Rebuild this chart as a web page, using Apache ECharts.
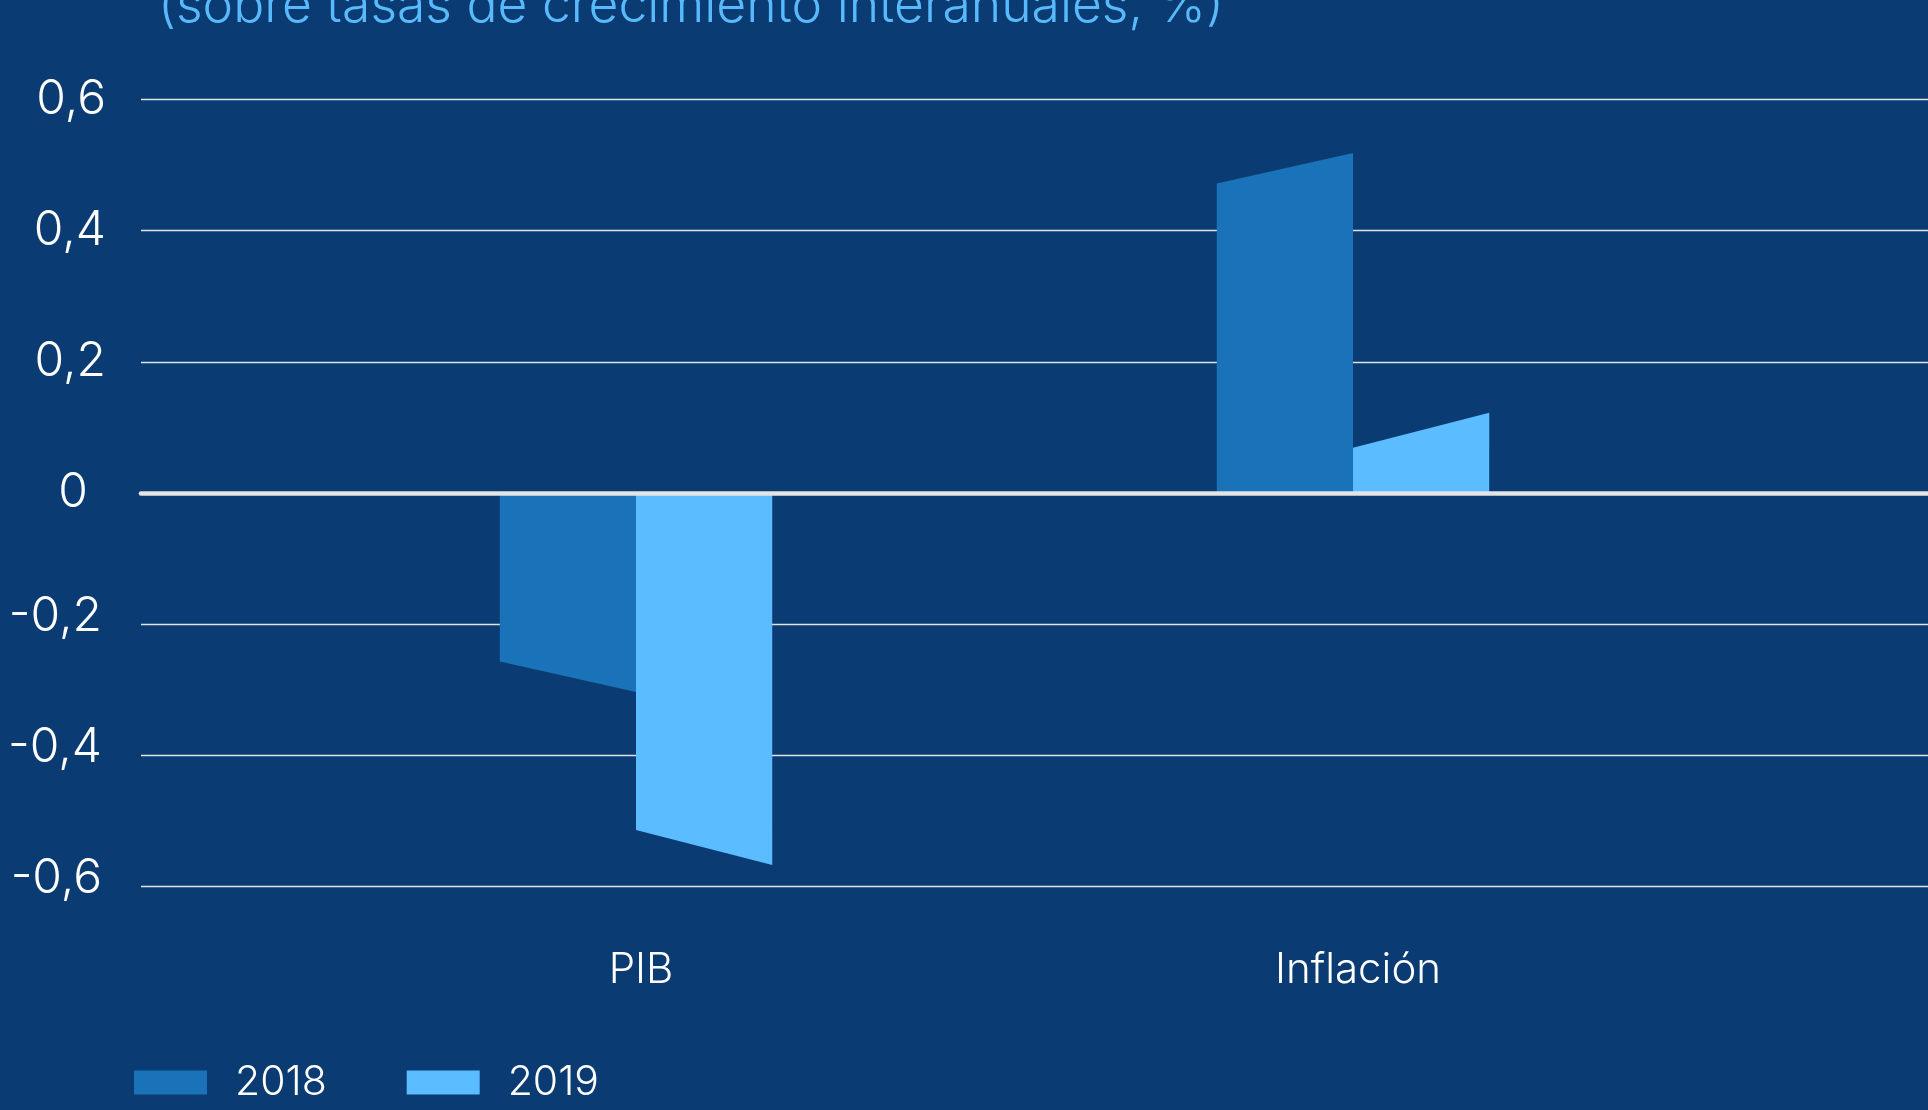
<!DOCTYPE html>
<html>
<head>
<meta charset="utf-8">
<script src="https://cdn.jsdelivr.net/npm/echarts@6/dist/echarts.min.js"></script>
<style>
  html, body { margin: 0; padding: 0; background: #0b3b73; }
  #chart { width: 1928px; height: 1110px; }
</style>
</head>
<body>
<div id="chart"></div>
<script>
// ---- data ----
const titleText = '(sobre tasas de crecimiento interanuales, %)';
const categories = ['PIB', 'Inflación'];
const seriesNames = ['2018', '2019'];
const values2018 = [-0.257, 0.472];
const values2019 = [-0.514, 0.069];
const yMin = -0.6;
const yMax = 0.6;
const yStep = 0.2;

// ---- styles ----
const BG = '#0b3b73';
const COLORS = ['#1a72b8', '#5bbcff'];
const SLANT = [30.5, 35];      // px, perspective slant of bar ends
const BAR_FRACTION = 0.19;     // bar width as fraction of category band
const FONT = 'Inter, "Noto Sans", sans-serif';

function fmt(v) {
  const r = Math.round(v * 10) / 10;
  if (r === 0) return '0';
  return String(r).replace('.', ',');
}

function renderBar(params, api) {
  const ci = api.value(0);
  const v = api.value(1);
  const top = api.coord([ci, v]);
  const base = api.coord([ci, 0]);
  const band = api.size([1, 0])[0];
  const w = band * BAR_FRACTION;
  const idx = params.seriesIndex;
  const x0 = idx === 0 ? top[0] - w : top[0];
  const x1 = x0 + w;
  const sign = v >= 0 ? 1 : -1;
  const y1 = top[1] - sign * SLANT[idx];
  return {
    type: 'polygon',
    shape: { points: [[x0, base[1]], [x0, top[1]], [x1, y1], [x1, base[1]]] },
    style: { fill: COLORS[idx] }
  };
}

const chart = echarts.init(document.getElementById('chart'), null, { renderer: 'canvas' });

const gridTop = 99.5;
const gridBottom = 1110 - 886.5;

chart.setOption({
  backgroundColor: BG,
  animation: false,
  graphic: [{
    type: 'text',
    left: 158,
    top: -20,
    style: {
      text: titleText,
      fill: '#58b9fb',
      font: '300 51.6px ' + FONT
    }
  }],
  legend: {
    left: 134,
    top: 1062,
    padding: 0,
    itemWidth: 73,
    itemHeight: 24,
    itemGap: 80,
    icon: 'rect',
    data: seriesNames,
    textStyle: {
      color: '#ffffff',
      fontFamily: FONT,
      fontWeight: 300,
      fontSize: 41,
      padding: [0, 0, 0, 23]
    }
  },
  grid: [
    { left: 141, right: 0, top: gridTop, bottom: gridBottom },
    { left: 277.5, right: 216.5, top: gridTop, bottom: gridBottom }
  ],
  xAxis: [
    {
      gridIndex: 0, type: 'value', min: 0, max: 1,
      axisLine: { show: true, onZero: true, lineStyle: { color: '#e4e4e4', width: 4.6 } },
      axisTick: { show: false }, axisLabel: { show: false }, splitLine: { show: false },
      z: 10
    },
    {
      gridIndex: 1, type: 'category', data: categories,
      axisLine: { show: false }, axisTick: { show: false }, splitLine: { show: false },
      axisLabel: {
        color: '#ffffff', fontFamily: FONT, fontWeight: 300, fontSize: 42, margin: 63,
        padding: [0, 0, 0, 10]
      }
    }
  ],
  yAxis: [
    {
      gridIndex: 0, type: 'value', min: yMin, max: yMax, interval: yStep,
      axisLine: { show: false }, axisTick: { show: false },
      splitLine: { show: true, lineStyle: { color: '#dfe4ea', width: 1.3 } },
      axisLabel: {
        margin: 35,
        color: '#ffffff', fontFamily: FONT, fontWeight: 300, fontSize: 48,
        formatter: function (v) {
          const s = fmt(v);
          if (s === '0') return '{z|' + s + '}';
          if (v < 0) return '{n|' + s + '}';
          return '{p|' + s + '}';
        },
        rich: {
          p: { color: '#ffffff', fontFamily: FONT, fontWeight: 300, fontSize: 48 },
          z: { color: '#ffffff', fontFamily: FONT, fontWeight: 300, fontSize: 48, padding: [0, 18, 0, 0] },
          n: { color: '#ffffff', fontFamily: FONT, fontWeight: 300, fontSize: 48, padding: [0, 4, 16, 0] }
        }
      }
    },
    {
      gridIndex: 1, type: 'value', min: yMin, max: yMax, interval: yStep, show: false
    }
  ],
  series: [
    {
      name: seriesNames[0], type: 'custom', xAxisIndex: 1, yAxisIndex: 1,
      itemStyle: { color: COLORS[0] },
      renderItem: renderBar,
      encode: { x: 0, y: 1 },
      data: values2018.map((v, i) => [i, v]),
      z: 2
    },
    {
      name: seriesNames[1], type: 'custom', xAxisIndex: 1, yAxisIndex: 1,
      itemStyle: { color: COLORS[1] },
      renderItem: renderBar,
      encode: { x: 0, y: 1 },
      data: values2019.map((v, i) => [i, v]),
      z: 2
    }
  ]
});
</script>
</body>
</html>
